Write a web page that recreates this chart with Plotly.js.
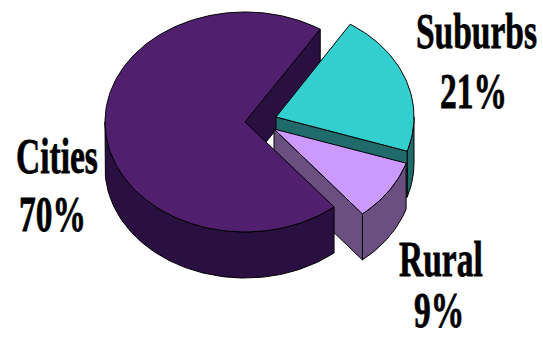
<!DOCTYPE html>
<html>
<head>
<meta charset="utf-8">
<script src="https://cdn.plot.ly/plotly-3.0.1.min.js"></script>
<style>
  html, body { margin: 0; padding: 0; background: #fff; }
  #chart { width: 543px; height: 337px; }
  /* Tall, condensed, heavy lettering for the slice labels */
  .annotation-text {
    transform-box: fill-box; transform-origin: center; transform: scaleY(1.5);
    stroke: #000; stroke-width: 0.5px;
  }
</style>
</head>
<body>
<div id="chart"></div>
<script>
// Share of population by area type, clockwise from the upper right
const categories = ['Suburbs', 'Rural', 'Cities'];
const shares = [21, 9, 70];

const topColors = ['#33cfcf', '#cc99ff', '#50206f'];
const wallColors = ['#1f6b6b', '#6a4f80', '#2a1040'];

// Where each slice's apex sits once it has been pulled out of the pie
const apexX = [276, 274, 245];
const apexY = [117, 129, 122];

const labelX = [[476, 473], [441, 439], [57, 52]];
const labelY = [[30, 90], [258, 309], [155, 213]];

// Oblique projection of the pie
const radiusX = [138, 139, 140];
const radiusY = 110;
const depth = 46;
const startAngle = 57.5;

// Slice angle ranges, running clockwise
const spans = [];
let running = startAngle;
shares.forEach(s => {
  const end = running - s * 3.6;
  spans.push([running, end]);
  running = end;
});

function rim(i, from, to, drop) {
  const xs = [], ys = [];
  const n = Math.max(2, Math.ceil(Math.abs(to - from) / 1.5));
  for (let k = 0; k <= n; k++) {
    const a = (from + (to - from) * k / n) * Math.PI / 180;
    xs.push(apexX[i] + radiusX[i] * Math.cos(a));
    ys.push(apexY[i] - radiusY * Math.sin(a) + drop);
  }
  return [xs, ys];
}

function shape(xs, ys, color) {
  return {
    type: 'scatter', mode: 'lines', x: xs, y: ys, fill: 'toself', fillcolor: color,
    line: { color: '#000', width: 1 }, hoverinfo: 'skip', showlegend: false
  };
}

function topFace(i) {
  const [xs, ys] = rim(i, spans[i][0], spans[i][1], 0);
  return shape([apexX[i], ...xs, apexX[i]], [apexY[i], ...ys, apexY[i]], topColors[i]);
}

function outerWall(i, from, to) {
  const [x0, y0] = rim(i, from, to, 0);
  const [x1, y1] = rim(i, from, to, depth);
  return shape([...x0, ...x1.slice().reverse(), x0[0]], [...y0, ...y1.slice().reverse(), y0[0]], wallColors[i]);
}

function radialWall(i, angle) {
  const [xe, ye] = rim(i, angle, angle, 0);
  const ax = apexX[i], ay = apexY[i], ex = xe[0], ey = ye[0];
  return shape([ax, ex, ex, ax, ax], [ay, ey, ey + depth, ay + depth, ay], wallColors[i]);
}

const [sub, rur, cit] = [0, 1, 2];

// Painted back to front
const traces = [
  radialWall(cit, spans[cit][1]),
  outerWall(sub, 0, spans[sub][1]),
  radialWall(sub, spans[sub][1]),
  topFace(sub),
  outerWall(rur, spans[rur][0], spans[rur][1]),
  radialWall(rur, spans[rur][1]),
  topFace(rur),
  outerWall(cit, spans[cit][0], -180),
  topFace(cit)
];

const annotations = [];
categories.forEach((c, i) => {
  [c, shares[i] + '%'].forEach((t, j) => {
    annotations.push({
      x: labelX[i][j], y: labelY[i][j], xref: 'x', yref: 'y', text: '<b>' + t + '</b>', showarrow: false,
      xanchor: 'center', yanchor: 'middle',
      font: { family: '"Liberation Serif", serif', size: 33.5, color: '#000' }
    });
  });
});

const layout = {
  width: 543, height: 337,
  margin: { l: 0, r: 0, t: 0, b: 0 },
  paper_bgcolor: '#fff', plot_bgcolor: '#fff',
  xaxis: { range: [0, 543], visible: false, fixedrange: true },
  yaxis: { range: [337, 0], visible: false, fixedrange: true },
  annotations: annotations,
  showlegend: false
};

Plotly.newPlot('chart', traces, layout, { displayModeBar: false, staticPlot: true });
</script>
</body>
</html>
